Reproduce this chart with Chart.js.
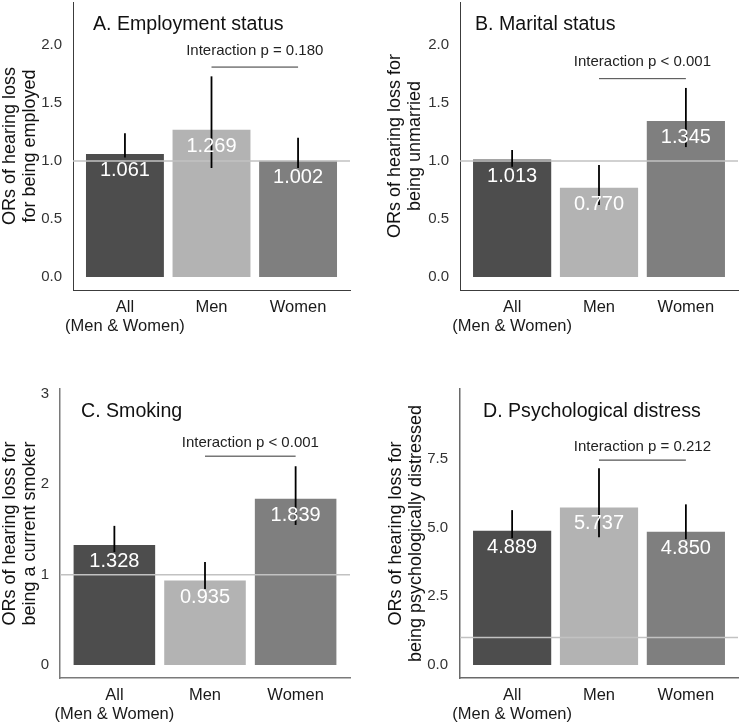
<!DOCTYPE html>
<html>
<head>
<meta charset="utf-8">
<script src="https://cdn.jsdelivr.net/npm/chart.js@4.4.1/dist/chart.umd.min.js"></script>
<style>
  html, body { margin: 0; padding: 0; background: #ffffff; }
  #wrap { position: relative; width: 740px; height: 725px; background: #ffffff; }
  canvas { position: absolute; }
</style>
</head>
<body>
<div id="wrap">
  <canvas id="pA" width="370" height="345" style="left:0px;top:0px;"></canvas>
  <canvas id="pB" width="370" height="345" style="left:370px;top:0px;"></canvas>
  <canvas id="pC" width="370" height="380" style="left:0px;top:345px;"></canvas>
  <canvas id="pD" width="370" height="380" style="left:370px;top:345px;"></canvas>
</div>
<script>
// ---------- data ----------
const categories = ['All', 'Men', 'Women'];
const xTickLabels = [['All', '(Men & Women)'], 'Men', 'Women'];

const panelTitles = ['A. Employment status', 'B. Marital status', 'C. Smoking', 'D. Psychological distress'];
const yTitles = [
  ['ORs of hearing loss', 'for being employed'],
  ['ORs of hearing loss for', 'being unmarried'],
  ['ORs of hearing loss for', 'being a current smoker'],
  ['ORs of hearing loss for', 'being psychologically distressed']
];
const interactionLabels = ['Interaction p = 0.180', 'Interaction p < 0.001', 'Interaction p < 0.001', 'Interaction p = 0.212'];

// A. Employment status
const orA = [1.061, 1.269, 1.002];
const lowerA = [1.03, 0.94, 0.94];
const upperA = [1.24, 1.73, 1.20];
const bracketA = 1.81;
const yTicksA = [0, 0.5, 1.0, 1.5, 2.0];

// B. Marital status
const orB = [1.013, 0.770, 1.345];
const lowerB = [0.95, 0.62, 1.12];
const upperB = [1.095, 0.966, 1.63];
const bracketB = 1.71;
const yTicksB = [0, 0.5, 1.0, 1.5, 2.0];

// C. Smoking
const orC = [1.328, 0.935, 1.839];
const lowerC = [1.25, 0.84, 1.55];
const upperC = [1.54, 1.14, 2.20];
const bracketC = 2.31;
const yTicksC = [0, 1, 2, 3];

// D. Psychological distress
const orD = [4.889, 5.737, 4.850];
const lowerD = [4.62, 4.65, 4.58];
const upperD = [5.64, 7.16, 5.85];
const bracketD = 7.46;
const yTicksD = [0, 2.5, 5.0, 7.5];

const referenceOR = 1;

// ---------- styles ----------
const FONT = "'Liberation Sans', Arial, Helvetica, sans-serif";
const barColors = ['#4d4d4d', '#b3b3b3', '#7f7f7f'];

const annotPlugin = {
  id: 'annot',
  afterDatasetsDraw(chart, args, o) {
    const { ctx, chartArea } = chart;
    const xs = chart.scales.x, ys = chart.scales.y;
    ctx.save();
    // value labels inside bars
    ctx.fillStyle = '#ffffff';
    ctx.font = '20px ' + FONT;
    ctx.textAlign = 'center';
    ctx.textBaseline = 'middle';
    o.values.forEach((v, i) => {
      ctx.fillText(v.toFixed(3), xs.getPixelForValue(i + 1), ys.getPixelForValue(v) + 16.5);
    });
    // interaction text
    ctx.fillStyle = '#222222';
    ctx.font = '15px ' + FONT;
    ctx.fillText(o.interaction, xs.getPixelForValue(2.5), ys.getPixelForValue(o.bracket) - o.textGap);
    // panel title
    ctx.fillStyle = '#111111';
    ctx.font = '19.6px ' + FONT;
    ctx.textAlign = 'left';
    ctx.fillText(o.title, chartArea.left + o.titleDx, chartArea.top + 23);
    ctx.restore();
  }
};

function makePanel(id, p) {
  new Chart(document.getElementById(id), {
    type: 'bar',
    data: {
      datasets: [
        { // error bars (CI)
          type: 'bar',
          data: p.upper.map((u, i) => ({ x: i + 1, y: [p.lower[i], u] })),
          backgroundColor: '#000000',
          maxBarThickness: 1.8,
          grouped: false,
          order: 1
        },
        { // interaction bracket
          type: 'line',
          data: [{ x: 2, y: p.bracket }, { x: 3, y: p.bracket }],
          borderColor: p.bracketColor,
          borderWidth: p.bracketWidth,
          pointRadius: 0,
          order: 2
        },
        { // reference line at OR = 1
          type: 'line',
          data: [{ x: 0.4, y: referenceOR }, { x: 3.6, y: referenceOR }],
          borderColor: '#c2c2c2',
          borderWidth: 1.5,
          pointRadius: 0,
          order: 3
        },
        { // main bars
          type: 'bar',
          data: p.values.map((v, i) => ({ x: i + 1, y: v })),
          backgroundColor: barColors,
          categoryPercentage: 1,
          barPercentage: 0.9,
          grouped: false,
          order: 4
        }
      ]
    },
    options: {
      responsive: false,
      animation: false,
      devicePixelRatio: 1,
      layout: { autoPadding: false, padding: p.pad },
      plugins: {
        legend: { display: false },
        tooltip: { enabled: false },
        annot: {
          values: p.values, interaction: p.interaction, bracket: p.bracket,
          textGap: p.textGap, title: p.title, titleDx: p.titleDx
        }
      },
      scales: {
        x: {
          type: 'linear', min: 0.4, max: 3.6, offset: false, bounds: 'data',
          grid: { display: false, drawTicks: false },
          border: { display: true, color: p.axisColor, width: p.axisWidth },
          afterBuildTicks: s => { s.ticks = categories.map((c, i) => ({ value: i + 1 })); },
          ticks: {
            callback: v => xTickLabels[Math.round(v) - 1],
            font: { family: FONT, size: 16.5, lineHeight: 1.15 },
            color: '#1a1a1a', padding: 8, maxRotation: 0, autoSkip: false
          },
          afterFit: s => { s.height = p.xAxisH; s.paddingLeft = 0; s.paddingRight = 0; }
        },
        y: {
          type: 'linear', min: p.ymin, max: p.ymax, bounds: 'data',
          grid: { display: false, drawTicks: false },
          border: { display: true, color: p.axisColor, width: p.axisWidth },
          afterBuildTicks: s => { s.ticks = p.yTicks.map(v => ({ value: v })); },
          ticks: {
            callback: v => v.toFixed(p.dec),
            font: { family: FONT, size: 15 },
            color: '#333333', padding: p.tickPad
          },
          title: {
            display: true, text: p.yTitle, color: '#111111',
            font: { family: FONT, size: 18, lineHeight: 1.11 },
            padding: { top: p.titlePad, bottom: 0 }
          },
          afterFit: s => { s.width = p.yAxisW; s.paddingTop = 0; s.paddingBottom = 0; }
        }
      }
    },
    plugins: [annotPlugin]
  });
}

makePanel('pA', {
  values: orA, lower: lowerA, upper: upperA, bracket: bracketA, yTicks: yTicksA, dec: 1,
  title: panelTitles[0], yTitle: yTitles[0], interaction: interactionLabels[0],
  ymin: -0.112, ymax: 2.371, pad: { top: 2, right: 20, left: 0, bottom: 0 },
  yAxisW: 73, xAxisH: 55, tickPad: 11, titlePad: 0, textGap: 16, titleDx: 20,
  axisColor: '#3c3c3c', axisWidth: 1, bracketColor: '#333333', bracketWidth: 1
});
makePanel('pB', {
  values: orB, lower: lowerB, upper: upperB, bracket: bracketB, yTicks: yTicksB, dec: 1,
  title: panelTitles[1], yTitle: yTitles[1], interaction: interactionLabels[1],
  ymin: -0.112, ymax: 2.371, pad: { top: 2, right: 2, left: 0, bottom: 0 },
  yAxisW: 90, xAxisH: 55, tickPad: 11, titlePad: 15, textGap: 17, titleDx: 15,
  axisColor: '#3c3c3c', axisWidth: 1, bracketColor: '#444444', bracketWidth: 1
});
makePanel('pC', {
  values: orC, lower: lowerC, upper: upperC, bracket: bracketC, yTicks: yTicksC, dec: 0,
  title: panelTitles[2], yTitle: yTitles[2], interaction: interactionLabels[2],
  ymin: -0.144, ymax: 3.055, pad: { top: 44, right: 20, left: 0, bottom: 0 },
  yAxisW: 60, xAxisH: 47, tickPad: 11, titlePad: 0, textGap: 13, titleDx: 21,
  axisColor: '#7a7a7a', axisWidth: 1.5, bracketColor: '#777777', bracketWidth: 1.4
});
makePanel('pD', {
  values: orD, lower: lowerD, upper: upperD, bracket: bracketD, yTicks: yTicksD, dec: 1,
  title: panelTitles[3], yTitle: yTitles[3], interaction: interactionLabels[3],
  ymin: -0.473, ymax: 10.05, pad: { top: 44, right: 2, left: 0, bottom: 0 },
  yAxisW: 90, xAxisH: 47, tickPad: 12, titlePad: 16, textGap: 13, titleDx: 23,
  axisColor: '#6a6a6a', axisWidth: 1.5, bracketColor: '#555555', bracketWidth: 1.3
});
</script>
</body>
</html>
